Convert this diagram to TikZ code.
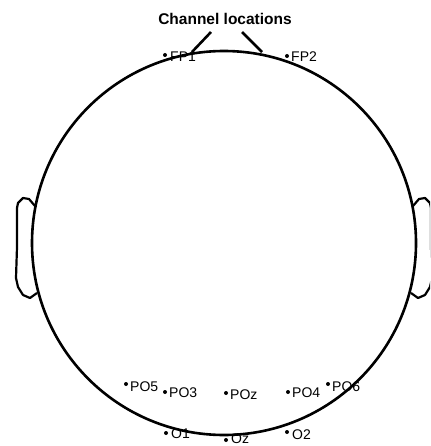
\documentclass[tikz,border=0pt]{standalone}
\usepackage{fontspec}
\setmainfont{Liberation Sans}
\usetikzlibrary{calc}

\begin{document}
\begin{tikzpicture}[x=1pt,y=-1pt,
  edot/.style={circle,fill=black,inner sep=0pt,minimum size=4pt},
  elabel/.style={anchor=base west,inner sep=0pt,font=\fontsize{14}{16}\selectfont},
  headline/.style={line width=2.6pt,line join=round},
  earline/.style={line width=2.2pt,line join=round}]

\useasboundingbox (0,0) rectangle (430,446);
\clip (0,0) rectangle (430,446);

% ---------------- TITLE ----------------
\node[anchor=base,inner sep=0pt,font=\fontsize{15.5}{18}\selectfont\bfseries] (title) at (225,25) {Channel locations};

% ---------------- ELECTRODES ----------------
% frontal
\node[edot] (fp1) at (165,55) {};
\node[elabel] (fp1lab) at (170,62) {FP1};
\node[edot] (fp2) at (287,56) {};
\node[elabel] (fp2lab) at (291,62) {FP2};

% parieto-occipital
\node[edot] (po5) at (126,384) {};
\node[elabel] (po5lab) at (130,391) {PO5};
\node[edot] (po3) at (165,392) {};
\node[elabel] (po3lab) at (169,397) {PO3};
\node[edot] (poz) at (226,393) {};
\node[elabel] (pozlab) at (230,399) {POz};
\node[edot] (po4) at (288,392) {};
\node[elabel] (po4lab) at (292,397) {PO4};
\node[edot] (po6) at (328,384) {};
\node[elabel] (po6lab) at (332,391) {PO6};

% occipital
\node[edot] (o1) at (166,433) {};
\node[elabel] (o1lab) at (171,438) {O1};
\node[edot] (oz) at (226,440) {};
\node[elabel] (ozlab) at (231,443) {Oz};
\node[edot] (o2) at (287,432) {};
\node[elabel] (o2lab) at (292,439) {O2};

% ---------------- HEAD ----------------
\draw[headline] (224,243) circle (192);

% nose
\draw[headline] (192,52) -- (211,32);
\draw[headline] (262,52) -- (242,32);

% left ear
\draw[earline] (35,206) -- (29,199) -- (23,198) -- (18,203) -- (17,208)
  -- (17,247) -- (16,278) -- (18,287) -- (23,295) -- (30,298) -- (37,293);

% right ear (mirrored)
\begin{scope}[xshift=448pt,xscale=-1]
\draw[earline] (35,206) -- (29,199) -- (23,198) -- (18,203) -- (17,208)
  -- (17,247) -- (16,278) -- (18,287) -- (23,295) -- (30,298) -- (37,293);
\end{scope}

\end{tikzpicture}
\end{document}
